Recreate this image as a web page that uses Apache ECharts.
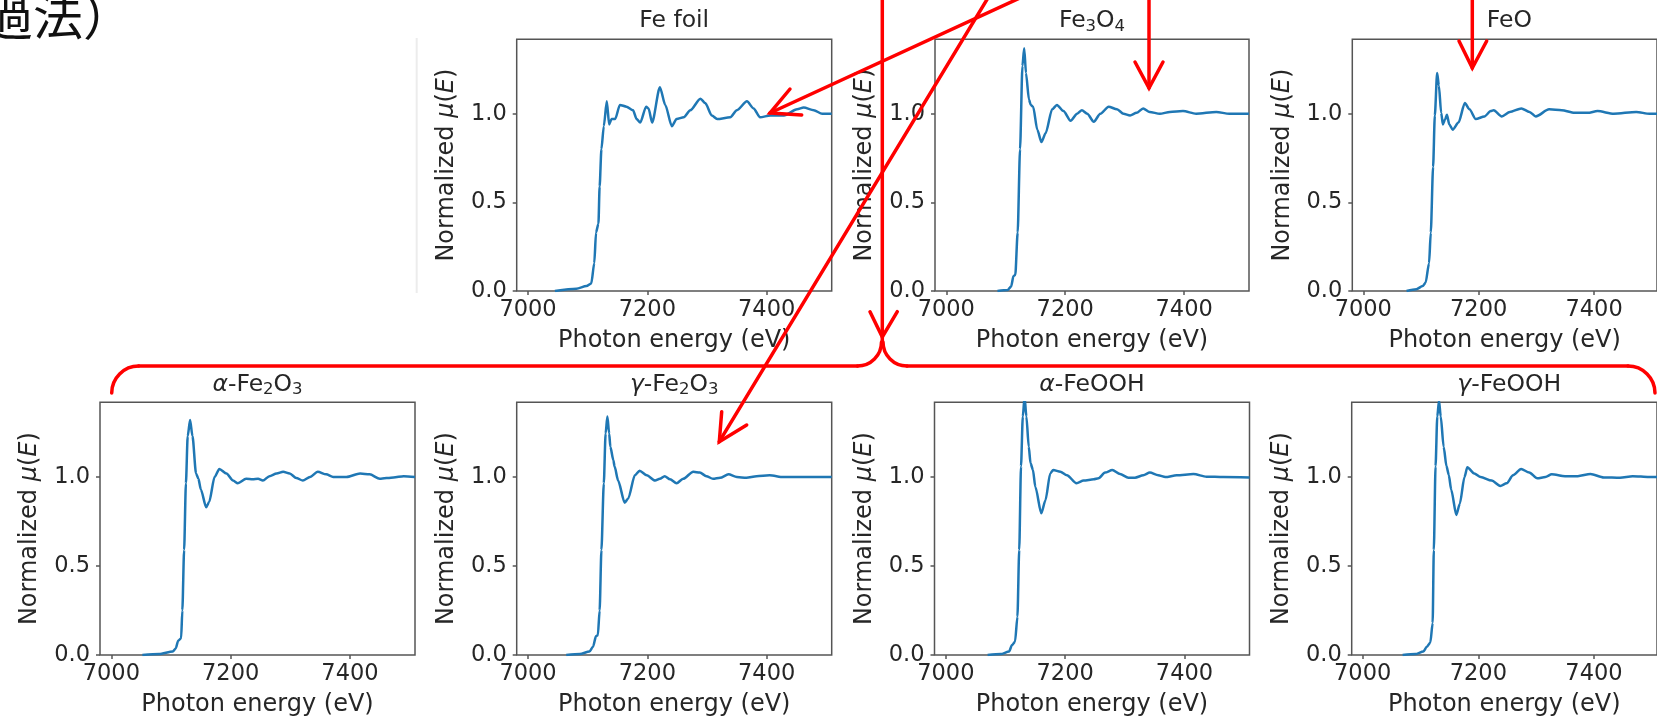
<!DOCTYPE html>
<html><head><meta charset="utf-8">
<script src="https://cdn.jsdelivr.net/npm/echarts@6/dist/echarts.min.js"></script>
<style>html,body{margin:0;padding:0;background:#fff}#c{width:1657px;height:720px}</style>
</head><body><div id="c"></div>
<script>
// ---- data ----
const panelTitles = ['Fe foil', 'Fe{s|3}O{s|4}', 'FeO', '{i|α}-Fe{s|2}O{s|3}', '{i|γ}-Fe{s|2}O{s|3}', '{i|α}-FeOOH', '{i|γ}-FeOOH'];
const xTicks = [7000, 7200, 7400];
const yTicks = [0, 0.5, 1.0];
const xLabel = 'Photon energy (eV)';
const yLabel = '{n|Normalized }{i|μ}{n|(}{i|E}{n|)}';
const noteText = '過法）';

const feFoilE = [7045,7081,7098,7106,7111,7114,7118,7120,7123,7127,7132,7136,7140,7146,7154,7165,7176,7182,7188,7198,7202,7208,7221,7230,7241,7249,7261,7272,7289,7297,7308,7317,7339,7350,7367,7378,7389,7406,7429,7451,7462,7479,7493,7509];
const feFoilMu = [0,0.013,0.028,0.043,0.157,0.33,0.38,0.59,0.80,0.93,1.07,0.94,0.97,0.97,1.05,1.04,1.02,0.97,0.95,1.04,1.03,0.95,1.15,1.05,0.93,0.97,0.98,1.02,1.085,1.06,0.99,0.97,0.98,1.02,1.07,1.03,0.98,0.99,0.99,1.025,1.035,1.02,1.0,1.0];

const fe3o4E = [7086,7103,7109,7113,7116,7120,7124,7128,7131,7134,7139,7142,7146,7153,7160,7167,7178,7186,7197,7209,7220,7228,7237,7248,7259,7273,7287,7298,7309,7320,7331,7342,7359,7376,7398,7420,7454,7476,7509];
const fe3o4Mu = [0,0.005,0.025,0.085,0.09,0.33,0.80,1.27,1.37,1.23,1.08,1.05,1.04,0.91,0.84,0.89,1.025,1.05,1.015,0.96,1.0,1.02,1.0,0.955,1.0,1.04,1.025,1.0,0.99,1.005,1.03,1.01,1.0,1.01,1.015,1.0,1.01,1.0,1.0];

const feoE = [7075,7092,7103,7108,7114,7117,7121,7124,7128,7131,7135,7138,7142,7145,7149,7155,7165,7176,7184,7195,7210,7221,7226,7240,7254,7274,7288,7299,7322,7344,7366,7389,7406,7434,7473,7496,7509];
const feoMu = [0,0.01,0.028,0.047,0.157,0.33,0.70,0.99,1.23,1.16,1.005,0.94,0.97,0.995,0.94,0.91,0.95,1.06,1.025,0.97,0.985,1.015,1.02,0.985,1.01,1.03,1.01,0.985,1.025,1.02,1.005,1.005,1.015,1.0,1.01,1.0,1.0];

const aFe2o3E = [7052,7080,7103,7108,7112,7117,7119,7122,7125,7128,7132,7136,7142,7146,7150,7159,7164,7173,7181,7193,7204,7212,7226,7237,7246,7254,7265,7277,7288,7299,7310,7321,7333,7346,7360,7372,7394,7417,7433,7450,7473,7490,7509];
const aFe2o3Mu = [0,0.005,0.02,0.037,0.08,0.094,0.25,0.59,0.965,1.23,1.32,1.23,1.02,0.99,0.93,0.83,0.86,1.0,1.045,1.02,0.98,0.965,0.99,0.987,0.99,0.98,1.005,1.02,1.03,1.02,0.995,0.98,1.0,1.03,1.015,1.0,1.0,1.02,1.015,0.99,0.998,1.005,1.0];

const gFe2o3E = [7064,7087,7103,7109,7114,7117,7120,7123,7127,7130,7133,7136,7138,7143,7145,7151,7162,7168,7179,7187,7199,7213,7221,7229,7238,7249,7260,7277,7288,7299,7310,7322,7336,7350,7366,7383,7405,7428,7461,7509];
const gFe2o3Mu = [0,0.005,0.02,0.047,0.107,0.11,0.25,0.59,0.965,1.245,1.34,1.245,1.17,1.095,1.06,0.98,0.856,0.88,1.01,1.035,1.01,0.98,0.99,1.005,0.987,0.965,0.99,1.03,1.025,1.005,0.99,0.996,1.015,1.0,0.996,1.005,1.01,1.0,1.0,1.0];

const aFeoohE = [7070,7092,7106,7111,7116,7120,7123,7126,7129,7132,7135,7139,7142,7146,7150,7160,7167,7175,7180,7192,7203,7219,7231,7248,7256,7267,7279,7292,7306,7317,7331,7342,7356,7368,7387,7415,7437,7465,7509];
const aFeoohMu = [0,0.005,0.02,0.056,0.075,0.215,0.59,1.06,1.34,1.45,1.34,1.17,1.077,1.04,0.946,0.796,0.87,1.02,1.04,1.03,1.01,0.965,0.98,0.987,0.993,1.025,1.04,1.017,0.996,0.996,1.01,1.025,1.01,1.0,1.01,1.017,1.002,1.0,0.998];

const gFeoohE = [7069,7091,7105,7111,7117,7121,7123,7126,7129,7132,7135,7140,7145,7149,7153,7162,7168,7176,7181,7193,7204,7223,7238,7249,7260,7274,7288,7302,7316,7327,7350,7372,7394,7417,7445,7467,7495,7509];
const gFeoohMu = [0,0.005,0.02,0.047,0.07,0.18,0.59,1.06,1.34,1.43,1.34,1.17,1.06,1.01,0.93,0.787,0.85,1.0,1.055,1.02,1.0,0.98,0.95,0.965,1.01,1.045,1.026,0.993,1.0,1.015,1.005,1.005,1.017,0.998,0.996,1.005,1.0,1.0];

const seriesE = [feFoilE, fe3o4E, feoE, aFe2o3E, gFe2o3E, aFeoohE, gFeoohE];
const seriesMu = [feFoilMu, fe3o4Mu, feoMu, aFe2o3Mu, gFe2o3Mu, aFeoohMu, gFeoohMu];

// ---- layout ----
const panelBoxes = [
  {l:516.7, t:39.3, w:315, h:251.7},
  {l:935,   t:39.3, w:314, h:251.7},
  {l:1352.3,t:39.3, w:314, h:251.7},
  {l:100,   t:402.3,w:315, h:252.7},
  {l:516.7, t:402.3,w:315, h:252.7},
  {l:934.5, t:402.3,w:315, h:252.7},
  {l:1351.7,t:402.3,w:315, h:252.7}
];
const FONT = 'DejaVu Sans';
const TXT = '#262626';
const AX = '#555';

const grids = [], xAxes = [], yAxes = [], series = [], graphics = [];
panelBoxes.forEach((b, i) => {
  grids.push({left:b.l, top:b.t, width:b.w, height:b.h, show:true, borderColor:AX, borderWidth:1.5, backgroundColor:'transparent', containLabel:false});
  xAxes.push({
    type:'value', gridIndex:i, min:6981, max:7509,
    axisLine:{show:false},
    axisTick:{show:true, customValues:xTicks, length:4, lineStyle:{color:AX, width:1.5}},
    axisLabel:{customValues:xTicks, formatter:v => String(Math.round(v)), fontSize:22.5, fontFamily:FONT, color:TXT, margin:8},
    splitLine:{show:false},
    name:xLabel, nameLocation:'middle', nameGap:38,
    nameTextStyle:{fontSize:24, fontFamily:FONT, color:TXT}
  });
  yAxes.push({
    type:'value', gridIndex:i, min:0, max:1.42,
    axisLine:{show:false},
    axisTick:{show:true, customValues:yTicks, length:4, lineStyle:{color:AX, width:1.5}},
    axisLabel:{customValues:yTicks, formatter:v => Number(v).toFixed(1), fontSize:22.5, fontFamily:FONT, color:TXT, margin:10},
    splitLine:{show:false},
    name:yLabel, nameLocation:'middle', nameGap:58, nameRotate:90,
    nameTextStyle:{fontSize:24, fontFamily:FONT, color:TXT,
      rich:{n:{fontSize:24, fontFamily:FONT, color:TXT}, i:{fontSize:24, fontFamily:FONT, fontStyle:'italic', color:TXT}}}
  });
  series.push({
    type:'line', xAxisIndex:i, yAxisIndex:i,
    data: seriesE[i].map((e, k) => [e, seriesMu[i][k]]),
    showSymbol:false, symbol:'none', smooth:0.25, smoothMonotone:'x', clip:true,
    lineStyle:{color:'#1f77b4', width:2.5}, z:1
  });
  const top = i < 3;
  graphics.push({
    type:'text', x:b.l + b.w/2, y: top ? 21 : 384.5, z:50,
    style:{text:panelTitles[i], align:'center', verticalAlign:'middle', fill:TXT,
      font:'23.5px "' + FONT + '"', lineHeight:28,
      rich:{
        i:{fontSize:23.5, fontFamily:FONT, fontStyle:'italic', fill:TXT, lineHeight:28},
        s:{fontSize:16.5, fontFamily:FONT, fill:TXT, lineHeight:16.5, verticalAlign:'bottom'}
      }}
  });
});

// faint slide edge
graphics.push({type:'line', z:5, shape:{x1:416.7, y1:38, x2:416.7, y2:293}, style:{stroke:'#ececec', lineWidth:2}});
// cropped heading text
graphics.push({type:'text', x:-17, y:16, z:50, style:{text:noteText, align:'left', verticalAlign:'middle', fill:'#111', font:'50px "Noto Sans CJK JP"'}});

// red annotation strokes
const RED = '#ff0000', RW = 3.5;
function rl(x1,y1,x2,y2){ graphics.push({type:'line', z:100, shape:{x1,y1,x2,y2}, style:{stroke:RED, lineWidth:RW, lineCap:'round'}}); }
function rp(pts){ graphics.push({type:'polyline', z:100, shape:{points:pts}, style:{stroke:RED, lineWidth:RW, fill:null, lineCap:'round', lineJoin:'miter'}}); }
function ra(cx,cy,r,s,e){ graphics.push({type:'arc', z:100, shape:{cx,cy,r,startAngle:s,endAngle:e,clockwise:true}, style:{stroke:RED, lineWidth:RW, fill:null, lineCap:'round'}}); }
const PI = Math.PI;
rl(882.3,-5,882.3,342); rp([[870,311.7],[882.3,337],[897.3,311.7]]);
// bracket
ra(138.7,393,27,PI,1.5*PI); rl(138.7,366,857.5,366);
ra(857.5,342,24,0,0.5*PI); ra(907,342,24,0.5*PI,PI);
rl(907,366,1628,366); ra(1628,393,27,1.5*PI,2*PI);
// arrows
rl(1022,-3,770,113); rp([[790,89],[770,113],[801.7,115]]);
rl(988.5,-3,719.3,441.7); rp([[721.7,411.7],[719.3,441.7],[746.7,425]]);
rl(1149,-3,1149,88); rp([[1135,62],[1149,88],[1163,62]]);
rl(1472.3,-3,1472.3,68); rp([[1459,41],[1472.3,68],[1486.7,41]]);

const chart = echarts.init(document.getElementById('c'), null, {renderer:'canvas'});
chart.setOption({
  backgroundColor:'#ffffff', animation:false,
  grid:grids, xAxis:xAxes, yAxis:yAxes, series:series,
  graphic:{elements:graphics}
});
</script></body></html>
